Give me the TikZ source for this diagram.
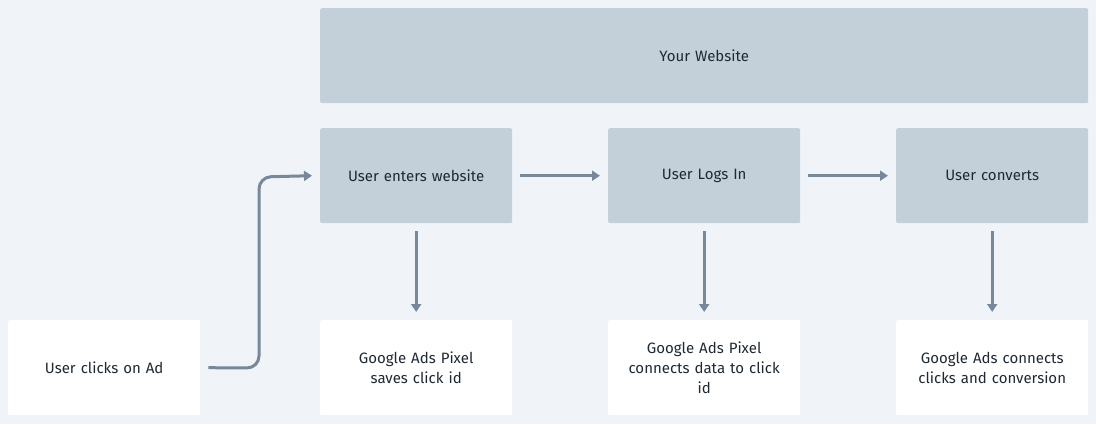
\documentclass[tikz,border=0pt]{standalone}
\usepackage{fontspec}
\setmainfont{Fira Sans}
\usetikzlibrary{arrows.meta}
\definecolor{bg}{HTML}{F0F4F8}
\definecolor{gbox}{HTML}{C3D0D9}
\definecolor{txt}{HTML}{1F2933}
\definecolor{arr}{HTML}{76889A}
\begin{document}
\begin{tikzpicture}[x=1pt,y=-1pt,
  box/.style={fill=gbox,rounded corners=2pt,minimum width=192pt,minimum height=95pt,inner sep=0pt,anchor=north west,text=txt,font=\fontsize{15}{20}\selectfont,align=center,text width=180pt},
  wbox/.style={box,fill=white},
  conn/.style={draw=arr,line width=3pt,-{Triangle[length=8pt,width=10pt]}}]
\fill[bg] (0,0) rectangle (1096,424);
\useasboundingbox (0,0) rectangle (1096,424);
\node[box,minimum width=768pt,text width=700pt] (web) at (320,8) {Your Website};
\node[box] (enter) at (320,128) {User enters website};
\node[box] (login) at (608,128) {User Logs In};
\node[box] (conv) at (896,128) {User converts};
\node[wbox] (ad) at (8,320) {User clicks on Ad};
\node[wbox] (pix) at (320,320) {Google Ads Pixel\\saves click id};
\node[wbox] (data) at (608,320) {Google Ads Pixel\\connects data to click\\id};
\node[wbox] (gac) at (896,320) {Google Ads connects\\clicks and conversion};
\draw[conn,rounded corners=12pt] ([xshift=8pt]ad.east) -- (259,368) -- (259,177) -- ([xshift=-8pt]enter.west);
\draw[conn] ([xshift=8pt]enter.east) -- ([xshift=-8pt]login.west);
\draw[conn] ([xshift=8pt]login.east) -- ([xshift=-8pt]conv.west);
\draw[conn] ([yshift=-8pt]enter.south) -- ([yshift=8pt]pix.north);
\draw[conn] ([yshift=-8pt]login.south) -- ([yshift=8pt]data.north);
\draw[conn] ([yshift=-8pt]conv.south) -- ([yshift=8pt]gac.north);
\end{tikzpicture}
\end{document}
